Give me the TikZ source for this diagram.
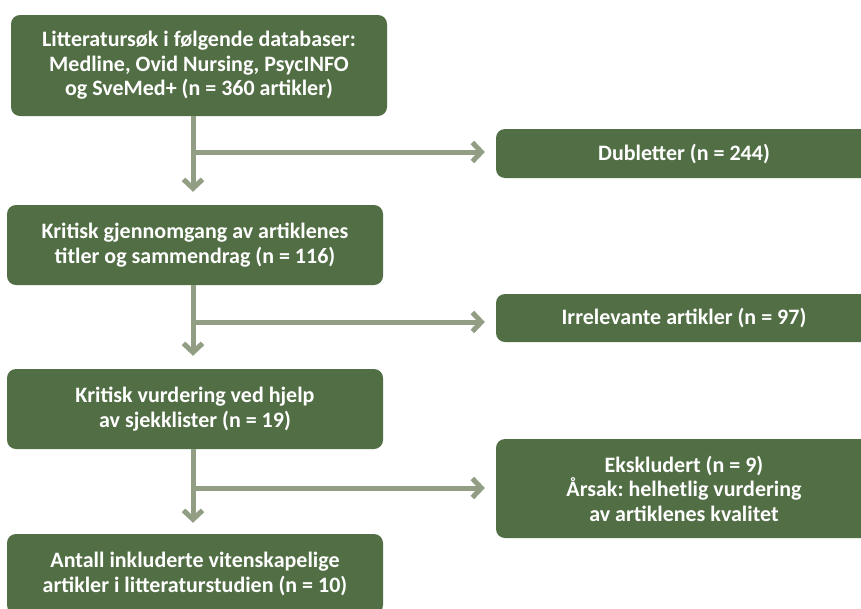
\documentclass[tikz,border=0pt]{standalone}
\usepackage{fontspec}
\setmainfont{Carlito}
\usetikzlibrary{arrows.meta}
\definecolor{boxgreen}{HTML}{526E45}
\definecolor{flowgreen}{HTML}{929E84}
\tikzset{
    stepbox/.style={fill=boxgreen,text=white,rounded corners=9pt,align=center,minimum width=376pt,inner sep=0pt,font=\bfseries\fontsize{22}{24.5}\selectfont\frenchspacing},
    flow/.style={draw=flowgreen,line width=5pt,-{Straight Barb[length=9pt,width=19pt]}}
}
\begin{document}
\begin{tikzpicture}[x=1pt,y=-1pt]
        \clip (0,0) rectangle (861,608);
        \node[stepbox,minimum height=101pt] (search) at (199,65.5) {Litteratursøk i følgende databaser:\\Medline, Ovid Nursing, PsycINFO\\og SveMed+ (n = 360 artikler)};
        \node[stepbox,minimum height=80pt] (screen) at (195,245) {Kritisk gjennomgang av artiklenes\\titler og sammendrag (n = 116)};
        \node[stepbox,minimum height=80pt] (appraise) at (195,409) {Kritisk vurdering ved hjelp\\av sjekklister (n = 19)};
        \node[stepbox,minimum height=80pt] (included) at (195,574) {Antall inkluderte vitenskapelige\\artikler i litteraturstudien (n = 10)};
        \node[stepbox,minimum height=49pt] (duplicates) at (684,153.5) {Dubletter (n = 244)};
        \node[stepbox,minimum height=48pt] (irrelevant) at (684,318) {Irrelevante artikler (n = 97)};
        \node[stepbox,minimum height=99pt] (excluded) at (684,488.5) {Ekskludert (n = 9)\\Årsak: helhetlig vurdering\\av artiklenes kvalitet};
        \coordinate (trunk) at (193,0);
        \coordinate (split1) at (193,152);
        \coordinate (split2) at (193,322);
        \coordinate (split3) at (193,488);
        \draw[flow,shorten >=13pt] (search.south -| trunk) -- (screen.north -| trunk);
        \draw[flow,shorten >=13pt] (screen.south -| trunk) -- (appraise.north -| trunk);
        \draw[flow,shorten >=11pt] (appraise.south -| trunk) -- (included.north -| trunk);
        \draw[flow,shorten >=11pt] (split1) -- (split1 -| duplicates.west);
        \draw[flow,shorten >=11pt] (split2) -- (split2 -| irrelevant.west);
        \draw[flow,shorten >=11pt] (split3) -- (split3 -| excluded.west);
    \end{tikzpicture}
\end{document}
